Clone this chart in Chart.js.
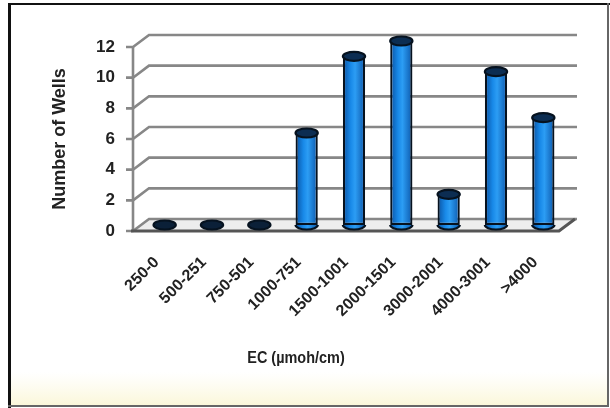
<!DOCTYPE html>
<html>
<head>
<meta charset="utf-8">
<script src="https://cdn.jsdelivr.net/npm/chart.js@4.4.1/dist/chart.umd.min.js"></script>
<style>
  html, body { margin: 0; padding: 0; background: #fff; }
  #wrap { width: 610px; height: 408px; }
</style>
</head>
<body>
<div id="wrap"><canvas id="ecChart" width="610" height="408"></canvas></div>
<script>
// data
const kategoriEC = ['250-0', '500-251', '750-501', '1000-751', '1500-1001', '2000-1501', '3000-2001', '4000-3001', '>4000'];
const jumlahSumur = [0, 0, 0, 6, 11, 12, 2, 10, 7];
const tickSumbuY = [0, 2, 4, 6, 8, 10, 12];
const judulY = 'Number of Wells';
const judulX = 'EC (\u00B5moh/cm)';

const hurufTebal = "'Liberation Sans', Arial, sans-serif";
const warnaTeks = '#222222';

// geser batang ke tengah "kedalaman" 3D
const geser = { dx: 8, dy: -6 };

function warnaBatang(context) {
    const chart = context.chart;
    const sx = chart.scales.x;
    if (!sx || !chart.chartArea) return '#1a88e0';
    const x = sx.getPixelForValue(context.dataIndex);
    const g = chart.ctx.createLinearGradient(x - 11, 0, x + 11, 0);
    g.addColorStop(0, '#0a52a2');
    g.addColorStop(0.35, '#1889e8');
    g.addColorStop(0.55, '#2c9df4');
    g.addColorStop(1, '#0c58ac');
    return g;
}

const efek3D = {
    id: 'efek3D',
    beforeDraw(chart) {
        const c = chart.ctx;
        c.save();
        c.fillStyle = '#ffffff';
        c.fillRect(0, 0, chart.width, chart.height);
        const g = c.createLinearGradient(0, 372, 0, 405);
        g.addColorStop(0, 'rgba(252,249,226,0)');
        g.addColorStop(1, '#fbf7da');
        c.fillStyle = g;
        c.fillRect(11, 372, 596, 33);
        // bingkai
        c.fillStyle = '#111';
        c.fillRect(8, 3, 3, 405);
        c.fillRect(8, 3, 602, 2);
        c.fillStyle = '#666';
        c.fillRect(607, 3, 2, 404);
        c.fillRect(8, 405, 601, 2);
        c.restore();
    },
    beforeDatasetsDraw(chart) {
        const c = chart.ctx;
        const a = chart.chartArea;
        const y = chart.scales.y;
        const y0 = y.getPixelForValue(0);
        c.save();
        // lantai
        c.fillStyle = '#ededed';
        c.beginPath();
        c.moveTo(a.left, y0);
        c.lineTo(a.left + 16, y0 - 12);
        c.lineTo(a.right + 18, y0 - 12);
        c.lineTo(a.right, y0);
        c.closePath();
        c.fill();
        // garis grid dinding
        c.strokeStyle = '#878787';
        c.lineWidth = 2.6;
        y.ticks.forEach(t => {
            const py = y.getPixelForValue(t.value);
            c.beginPath();
            c.moveTo(a.left - 7, py);
            c.lineTo(a.left, py);
            c.lineTo(a.left + 16, py - 12);
            c.lineTo(a.right + 18, py - 12);
            c.stroke();
        });
        c.beginPath();
        c.moveTo(a.left, a.top);
        c.lineTo(a.left, y0);
        c.stroke();
        // tepi depan lantai
        c.strokeStyle = '#555';
        c.lineWidth = 3;
        c.beginPath();
        c.moveTo(a.left - 2, y0);
        c.lineTo(a.right, y0);
        c.lineTo(a.right + 16, y0 - 12);
        c.stroke();
        c.restore();
        c.save();
        c.translate(geser.dx, geser.dy);
    },
    afterDatasetsDraw(chart) {
        const c = chart.ctx;
        const meta = chart.getDatasetMeta(0);
        meta.data.forEach((bar, i) => {
            const rx = bar.width / 2;
            const ry = 4.5;
            c.lineWidth = 2.2;
            c.strokeStyle = '#06121f';
            if (jumlahSumur[i] === 0) {
                c.fillStyle = '#0b2038';
                c.beginPath();
                c.ellipse(bar.x, bar.base, rx, ry, 0, 0, Math.PI * 2);
                c.fill();
                c.stroke();
                return;
            }
            // dasar silinder
            c.fillStyle = warnaBatang({ chart: chart, dataIndex: i });
            c.beginPath();
            c.ellipse(bar.x, bar.base, rx, ry, 0, 0, Math.PI);
            c.fill();
            c.stroke();
            // tutup atas
            c.fillStyle = '#0c2d52';
            c.beginPath();
            c.ellipse(bar.x, bar.y, rx, ry, 0, 0, Math.PI * 2);
            c.fill();
            c.stroke();
        });
        c.restore();
    },
    afterDraw(chart) {
        // judul sumbu X, huruf dipersempit seperti aslinya
        const c = chart.ctx;
        c.save();
        c.fillStyle = warnaTeks;
        c.font = 'bold 17px ' + hurufTebal;
        c.textAlign = 'center';
        c.textBaseline = 'middle';
        c.translate(296, 358);
        c.scale(0.85, 1);
        c.fillText(judulX, 0, 0);
        c.restore();
    }
};

const ctxEC = document.getElementById('ecChart').getContext('2d');
new Chart(ctxEC, {
    type: 'bar',
    data: {
        labels: kategoriEC,
        datasets: [{
            label: judulY,
            data: jumlahSumur,
            backgroundColor: warnaBatang,
            borderColor: '#06121f',
            borderWidth: 2.2,
            borderSkipped: false,
            barPercentage: 0.47,
            categoryPercentage: 1
        }]
    },
    options: {
        responsive: false,
        animation: false,
        devicePixelRatio: 1,
        layout: { padding: { top: 47, right: 51, bottom: 0, left: 0 } },
        plugins: {
            legend: { display: false },
            tooltip: { enabled: false }
        },
        scales: {
            x: {
                afterFit: s => { s.height = 408 - 231; },
                grid: { display: false, drawTicks: false },
                border: { display: false },
                ticks: {
                    autoSkip: false,
                    minRotation: 45,
                    maxRotation: 45,
                    padding: 22,
                    color: warnaTeks,
                    font: { family: hurufTebal, size: 16, weight: 'bold' }
                }
            },
            y: {
                min: 0,
                max: 12,
                afterBuildTicks: s => { s.ticks = tickSumbuY.map(v => ({ value: v })); },
                afterFit: s => { s.width = 133; },
                grid: { display: false, drawTicks: false },
                border: { display: false },
                ticks: {
                    padding: 18,
                    color: warnaTeks,
                    font: { family: hurufTebal, size: 17, weight: 'bold' }
                },
                title: {
                    display: true,
                    text: judulY,
                    color: warnaTeks,
                    font: { family: hurufTebal, size: 18, weight: 'bold' },
                    padding: { top: 49, bottom: 0 }
                }
            }
        }
    },
    plugins: [efek3D]
});
</script>
</body>
</html>
